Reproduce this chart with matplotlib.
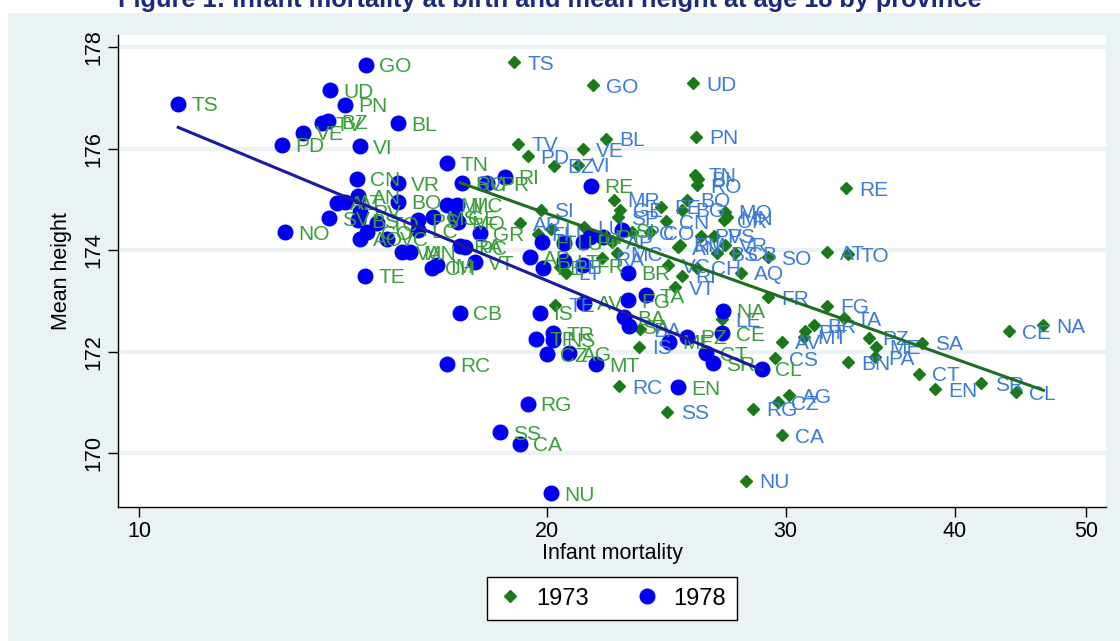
import matplotlib
matplotlib.use('Agg')
import matplotlib.pyplot as plt
from matplotlib.patches import Rectangle
from matplotlib.lines import Line2D

plt.rcParams['font.family'] = ['Liberation Sans', 'DejaVu Sans']

title = 'Figure 1: Infant mortality at birth and mean height at age 18 by province'

# ---- 1978 (blue circles, green labels) ----
lab78 = ['TS', 'GO', 'UD', 'PN', 'BZ', 'TV', 'VE', 'BL', 'PD', 'VI',
         'TN', 'CN', 'VR', 'RO', 'PR', 'RI', 'RE', 'AN', 'AL', 'AT',
         'BO', 'MI', 'MC', 'SV', 'PV', 'BS', 'TO', 'PS', 'MS', 'GE',
         'MO', 'NO', 'CO', 'AO', 'VC', 'LC', 'VA', 'MN', 'IM', 'CH',
         'PC', 'VT', 'TE', 'RA', 'GR', 'FI', 'LU', 'PI', 'PT', 'AP',
         'PE', 'LT', 'FR', 'BR', 'CB', 'IS', 'RC', 'TP', 'TR', 'NS',
         'CZ', 'AG', 'MT', 'EN', 'AV', 'FG', 'TA', 'BA', 'SA', 'ME',
         'PZ', 'CT', 'SR', 'NA', 'CE', 'CL', 'RG', 'SS', 'CA', 'NU',
         'LI', 'SI']
mort78 = [10.69, 14.71, 13.84, 14.19, 13.79, 13.65, 13.21, 15.53, 12.75, 14.56,
          16.88, 14.48, 15.53, 17.32, 18.07, 18.62, 21.55, 14.52, 14.00, 14.19,
          15.53, 16.88, 17.17, 13.81, 14.56, 14.52, 14.98, 16.07, 16.48, 17.11,
          17.20, 12.81, 14.74, 14.56, 15.24, 16.07, 15.64, 15.85, 16.60, 16.45,
          17.41, 17.70, 14.69, 17.26, 17.85, 19.84, 20.57, 21.26, 22.00, 19.44,
          19.87, 20.57, 21.26, 22.96, 17.26, 19.77, 16.88, 19.63, 20.22, 20.22,
          20.00, 20.75, 21.75, 24.97, 21.30, 22.96, 23.67, 22.80, 22.99, 24.62,
          25.38, 26.22, 26.53, 26.98, 26.94, 28.82, 19.35, 18.47, 19.11, 20.15,
          21.52, 22.71]
height78 = [176.88, 177.65, 177.15, 176.86, 176.54, 176.50, 176.31, 176.50, 176.07, 176.05,
            175.71, 175.40, 175.32, 175.32, 175.32, 175.44, 175.27, 175.06, 174.93, 174.95,
            174.95, 174.89, 174.89, 174.63, 174.75, 174.59, 174.53, 174.59, 174.65, 174.65,
            174.55, 174.35, 174.35, 174.22, 174.22, 174.39, 173.96, 173.96, 173.70, 173.65,
            174.06, 173.76, 173.49, 174.08, 174.33, 174.16, 174.14, 174.16, 174.26, 173.86,
            173.65, 173.78, 173.70, 173.55, 172.76, 172.76, 171.75, 172.25, 172.36, 172.23,
            171.95, 171.97, 171.75, 171.30, 172.96, 173.01, 173.11, 172.68, 172.50, 172.19,
            172.29, 171.97, 171.77, 172.80, 172.36, 171.66, 170.97, 170.41, 170.18, 169.21,
            174.26, 174.39]

# ---- 1973 (green diamonds, blue labels) ----
lab73 = ['TS', 'GO', 'UD', 'PN', 'BL', 'TV', 'PD', 'VE', 'BZ', 'VI',
         'TN', 'BI', 'RO', 'RE', 'BO', 'MR', 'GE', 'SP', 'FE', 'CN',
         'BG', 'MO', 'MN', 'CR', 'SI', 'AR', 'LI', 'LU', 'FI', 'PC',
         'CO', 'AP', 'MC', 'RA', 'LT', 'PE', 'AN', 'VC', 'CH', 'RI',
         'VT', 'RM', 'PV', 'PS', 'VR', 'BS', 'CB', 'SO', 'AT', 'TO',
         'AQ', 'FR', 'FG', 'TA', 'BR', 'PT', 'MT', 'AV', 'PZ', 'ME',
         'PA', 'SA', 'BN', 'CS', 'CE', 'NA', 'CT', 'EN', 'SR', 'CL',
         'AG', 'CZ', 'RG', 'CA', 'SS', 'RC', 'NU', 'IS', 'BA', 'LE',
         'TE', 'SV']
mort73 = [18.92, 21.62, 25.65, 25.77, 22.11, 19.05, 19.35, 21.26, 20.25, 21.09,
          25.73, 25.86, 25.82, 33.24, 25.38, 22.40, 22.64, 22.56, 24.29, 24.49,
          25.17, 27.08, 27.17, 27.03, 19.80, 19.11, 20.13, 21.30, 19.70, 23.11,
          23.83, 22.35, 22.53, 21.95, 20.64, 20.46, 25.00, 24.58, 25.82, 25.17,
          24.88, 25.09, 25.98, 26.58, 27.08, 26.71, 27.54, 29.13, 32.17, 33.33,
          27.80, 29.13, 32.17, 33.10, 31.46, 30.99, 30.94, 29.80, 34.54, 35.00,
          34.94, 37.80, 33.33, 29.48, 43.83, 46.48, 37.63, 38.66, 41.84, 44.38,
          30.15, 29.59, 28.37, 29.80, 24.54, 22.60, 28.04, 23.38, 23.42, 26.94,
          20.29, 17.32]
height73 = [177.70, 177.25, 177.29, 176.23, 176.19, 176.09, 175.85, 175.99, 175.66, 175.68,
            175.48, 175.40, 175.28, 175.22, 174.99, 174.99, 174.79, 174.65, 174.85, 174.57,
            174.79, 174.75, 174.65, 174.59, 174.79, 174.53, 174.41, 174.45, 174.32, 174.35,
            174.35, 174.16, 173.94, 173.84, 173.55, 173.67, 174.06, 173.70, 173.65, 173.49,
            173.27, 174.10, 174.28, 174.28, 174.10, 173.94, 173.94, 173.86, 173.96, 173.92,
            173.55, 173.07, 172.90, 172.66, 172.52, 172.40, 172.29, 172.19, 172.27, 172.09,
            171.89, 172.17, 171.79, 171.87, 172.40, 172.52, 171.56, 171.26, 171.38, 171.20,
            171.14, 171.00, 170.87, 170.35, 170.81, 171.32, 169.45, 172.09, 172.44, 172.64,
            172.92, 175.34]

# ---- fitted lines (end points) ----
fit78_x = [10.69, 28.82]
fit78_y = [176.42, 171.64]
fit73_x = [17.26, 46.48]
fit73_y = [175.33, 171.24]

xticks = [10, 20, 30, 40, 50]
yticks = [170, 172, 174, 176, 178]

W, H = 1120, 641
fig = plt.figure(figsize=(W / 100, H / 100), dpi=100)
fig.patch.set_facecolor('white')
fig.add_artist(Rectangle((8 / W, 0), 1 - 8 / W, 1 - 13 / H, transform=fig.transFigure,
                         facecolor='#EAF2F3', edgecolor='none', zorder=0))

fig.text(118 / W, 1 - 7 / H, title, ha='left', va='baseline', color='#1B2A7A',
         fontsize=18.3, fontweight='bold')

ax = fig.add_axes([118 / W, 1 - 507 / H, (1106 - 118) / W, (507 - 35) / H])
ax.set_facecolor('white')
ax.set_xscale('log')
ax.set_xlim(9.65, 51.7)
ax.set_ylim(168.94, 178.24)

for s in ['top', 'right']:
    ax.spines[s].set_visible(False)
for s in ['left', 'bottom']:
    ax.spines[s].set_color('black')
    ax.spines[s].set_linewidth(1.0)

ax.set_xticks(xticks)
ax.set_xticklabels([str(v) for v in xticks])
ax.xaxis.set_minor_locator(matplotlib.ticker.NullLocator())
ax.set_yticks(yticks)
ax.set_yticklabels([str(v) for v in yticks], rotation=90, va='center')
ax.tick_params(axis='both', length=7, width=1, color='black', labelsize=15.5, pad=3)
ax.yaxis.grid(True, color='#EAF2F3', linewidth=3)
ax.set_axisbelow(True)

ax.set_xlabel('Infant mortality', fontsize=15.5, labelpad=1)
ax.set_ylabel('Mean height', fontsize=15.5, labelpad=8)

green_m = '#1A7A1A'
blue_m = '#0000F0'
green_l = '#1F6E1F'
blue_l = '#1A1AA0'
green_t = '#3A9E3A'
blue_t = '#3C7BD9'

ax.plot(mort73, height73, linestyle='none', marker='D', markersize=6.5,
        color=green_m, zorder=3)
ax.plot(mort78, height78, linestyle='none', marker='o', markersize=10.5,
        color=blue_m, zorder=3)

for lab, x, y in zip(lab73, mort73, height73):
    ax.annotate(lab, (x, y), xytext=(9.5, -5.3), textcoords='offset points',
                ha='left', va='baseline', fontsize=15, color=blue_t, zorder=4)
for lab, x, y in zip(lab78, mort78, height78):
    ax.annotate(lab, (x, y), xytext=(9.5, -5.3), textcoords='offset points',
                ha='left', va='baseline', fontsize=15, color=green_t, zorder=4)

ax.plot(fit78_x, fit78_y, color=blue_l, linewidth=2.2, zorder=5)
ax.plot(fit73_x, fit73_y, color=green_l, linewidth=2.2, zorder=5)

handles = [Line2D([], [], linestyle='none', marker='D', markersize=6.5, color=green_m),
           Line2D([], [], linestyle='none', marker='o', markersize=10.5, color=blue_m)]
leg = fig.legend(handles, ['1973', '1978'], loc='upper center',
                 bbox_to_anchor=(612 / W, 1 - 577 / H), ncol=2, frameon=True,
                 fancybox=False, edgecolor='black', framealpha=1, fontsize=17,
                 handletextpad=0.6, columnspacing=2.0, borderpad=0.45,
                 handlelength=1.0, borderaxespad=0)
leg.get_frame().set_linewidth(1.0)

fig.savefig('out.png', dpi=100, facecolor=fig.get_facecolor())
